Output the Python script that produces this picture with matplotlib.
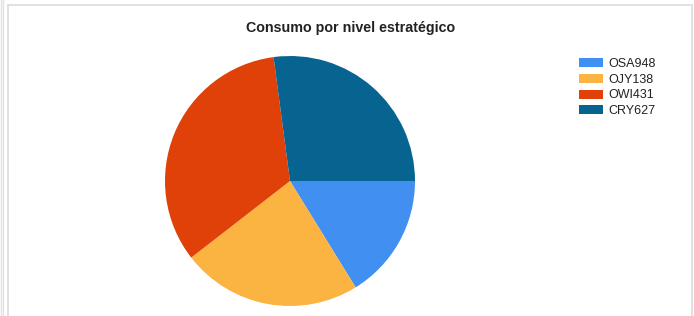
import matplotlib
matplotlib.use("Agg")
import matplotlib.pyplot as plt
from matplotlib.patches import Rectangle

# ---------------------------------------------------------------------------
# Data
# ---------------------------------------------------------------------------
TITLE    = "Consumo por nivel estratégico"
labels   = ["OSA948", "OJY138", "OWI431", "CRY627"]
values   = [16.2, 23.3, 33.4, 27.1]
colors   = ["#418FF0", "#FBB441", "#DF4109", "#07638F"]

W, H, DPI = 694, 316, 100

plt.rcParams["font.family"] = ["Liberation Sans", "DejaVu Sans"]

fig = plt.figure(figsize=(W / DPI, H / DPI), dpi=DPI, facecolor="white")

# panel borders (light grey frame of the original widget)
fig.add_artist(Rectangle((8 / W, -0.05), (692 - 8) / W, (H - 5) / H + 0.05,
                         transform=fig.transFigure, fill=False,
                         edgecolor="#dcdcdc", linewidth=1.2))
fig.add_artist(Rectangle((1 / W, -0.05), 2 / W, 1.2,
                         transform=fig.transFigure, fill=False,
                         edgecolor="#e2e2e2", linewidth=1.0))

# pie axes: centre (290,181) px, radius 125 px
cx, cy, r = 290, 181, 125
ax = fig.add_axes([(cx - r) / W, (H - cy - r) / H, 2 * r / W, 2 * r / H])
wedges, _ = ax.pie(values, colors=colors, startangle=0, counterclock=False,
                   radius=1.0, wedgeprops=dict(linewidth=0))
ax.set_xlim(-1.0, 1.0)
ax.set_ylim(-1.0, 1.0)
ax.set_aspect("auto")
ax.axis("off")

fig.text(351 / W, 1 - 28 / H, TITLE, ha="center", va="center",
         fontsize=10.3, fontweight="bold", color="#222222")

fig.legend(wedges, labels, loc="upper left",
           bbox_to_anchor=(574 / W, 1 - 53 / H),
           frameon=False, fontsize=9, handlelength=1.9, handleheight=0.75,
           handletextpad=0.45, labelspacing=0.3, borderaxespad=0,
           labelcolor="#222222")

fig.savefig("out.png", dpi=DPI, facecolor="white")
